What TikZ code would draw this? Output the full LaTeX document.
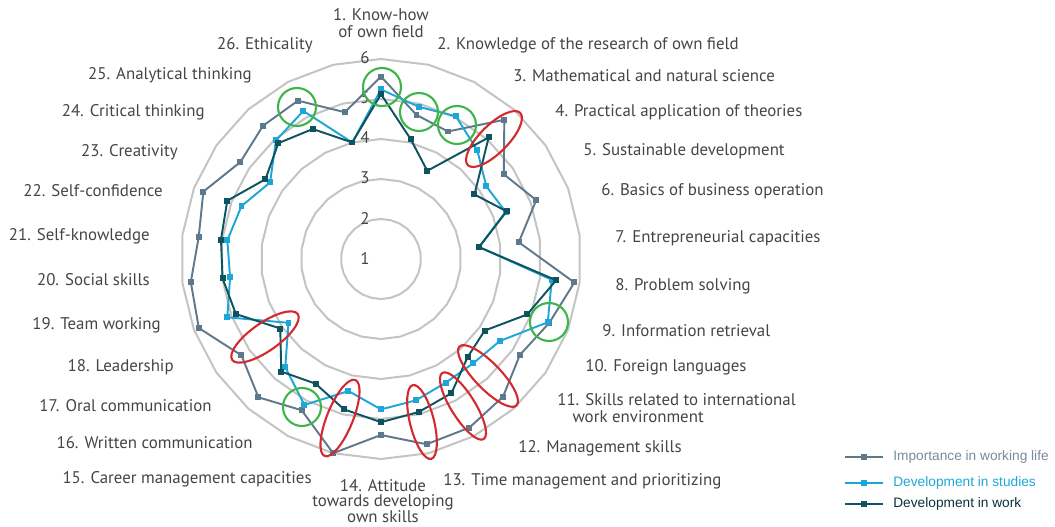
\documentclass[tikz,border=0pt]{standalone}
\usepackage{fontspec}
\setmainfont{PT Sans}
\newfontfamily\legendfont{Liberation Sans}
\usetikzlibrary{positioning}

\definecolor{impcol}{HTML}{5E788C}
\definecolor{studcol}{HTML}{1EA6D6}
\definecolor{workcol}{HTML}{0D5360}
\definecolor{gridcol}{HTML}{C4C4C4}
\definecolor{textcol}{HTML}{454545}
\definecolor{goodcol}{HTML}{3DB54A}
\definecolor{badcol}{HTML}{D42A2F}

\begin{document}
\begin{tikzpicture}[x=0.02cm,y=0.02cm,
  lbl/.style={inner sep=0pt,text=textcol,font=\fontsize{9.6}{9.3}\selectfont},
  ring/.style={draw=gridcol,line width=1.15pt},
  imp line/.style={draw=impcol,line width=1.1pt},
  stud line/.style={draw=studcol,line width=1.1pt},
  work line/.style={draw=workcol,line width=1.1pt},
  imp dot/.style={fill=impcol,inner sep=0pt,minimum size=3.4pt},
  stud dot/.style={fill=studcol,inner sep=0pt,minimum size=3.4pt},
  work dot/.style={fill=workcol,inner sep=0pt,minimum size=3.4pt},
  good/.style={draw=goodcol,line width=1.2pt},
  bad/.style={draw=badcol,line width=1.2pt},
  legtext/.style={inner sep=0pt,font=\legendfont\fontsize{7.8}{9}\selectfont}]
  \useasboundingbox (-381,-268) rectangle (674,259);

  \foreach \r in {40,80,...,200}
    \draw[ring] (90:\r) foreach \k in {1,...,25} {-- ({90-\k*360/26}:\r)} -- cycle;
  \foreach \v in {1,...,6}
    \node[lbl] (n\v) at (-16,{(\v-1)*40+1}) {\v};

  \node[lbl,align=center] (l1) at (0,236) {1. Know-how\\of own field};
  \node[lbl,anchor=west] (l2) at (56,214) {2. Knowledge of the research of own field};
  \node[lbl,anchor=west] (l3) at (132,183) {3. Mathematical and natural science};
  \node[lbl,anchor=west] (l4) at (174,147) {4. Practical application of theories};
  \node[lbl,anchor=west] (l5) at (202,108) {5. Sustainable development};
  \node[lbl,anchor=west] (l6) at (220,68) {6. Basics of business operation};
  \node[lbl,anchor=west] (l7) at (234,21) {7. Entrepreneurial capacities};
  \node[lbl,anchor=west] (l8) at (234,-27) {8. Problem solving};
  \node[lbl,anchor=west] (l9) at (221,-72) {9. Information retrieval};
  \node[lbl,anchor=west] (l10) at (204,-108) {10. Foreign languages};
  \node[lbl,anchor=west,align=left] (l11) at (176,-149) {11. Skills related to international\\\hspace*{0.9em}work environment};
  \node[lbl,anchor=west] (l12) at (137,-189) {12. Management skills};
  \node[lbl,anchor=west] (l13) at (62,-222) {13. Time management and prioritizing};
  \node[lbl,align=center,font=\fontsize{9.6}{9}\selectfont] (l14) at (2,-242) {14. Attitude\\towards developing\\own skills};
  \node[lbl,anchor=east] (l15) at (-69,-220) {15. Career management capacities};
  \node[lbl,anchor=east] (l16) at (-128,-184) {16. Written communication};
  \node[lbl,anchor=east] (l17) at (-169,-147) {17. Oral communication};
  \node[lbl,anchor=east] (l18) at (-207,-108) {18. Leadership};
  \node[lbl,anchor=east] (l19) at (-220,-66) {19. Team working};
  \node[lbl,anchor=east] (l20) at (-231,-21) {20. Social skills};
  \node[lbl,anchor=east] (l21) at (-231,23) {21. Self-knowledge};
  \node[lbl,anchor=east] (l22) at (-218,68) {22. Self-confidence};
  \node[lbl,anchor=east] (l23) at (-203,107) {23. Creativity};
  \node[lbl,anchor=east] (l24) at (-176,147) {24. Critical thinking};
  \node[lbl,anchor=east] (l25) at (-129,184) {25. Analytical thinking};
  \node[lbl,anchor=east] (l26) at (-68,214) {26. Ethicality};

  \foreach \s/\vals in {
    imp/{5.56,4.71,4.60,5.65,4.73,5.15,4.47,5.87,5.50,5.22,5.60,5.76,5.77,5.40,6.00,5.27,5.62,5.24,5.87,5.79,5.59,5.75,5.27,5.45,5.47,4.78},
    stud/{5.24,4.92,5.03,4.63,4.20,4.33,3.47,5.30,5.46,4.61,4.48,4.49,4.64,4.76,4.40,5.12,4.61,3.81,5.11,4.80,4.87,4.73,4.37,4.96,5.18,4.00},
    work/{5.12,4.09,3.49,5.06,3.84,4.36,3.47,5.41,4.91,4.15,4.27,4.79,4.94,5.08,4.87,4.52,4.76,4.06,4.88,4.99,5.03,5.11,4.51,4.87,4.67,4.00}}{
    \foreach \v [count=\k] in \vals
      \coordinate (\s\k) at ({90-(\k-1)*360/26}:{(\v-1)*40});
    \draw[\s\space line] (\s1) foreach \k in {2,...,26} {-- (\s\k)} -- cycle;
    \foreach \k in {1,...,26}
      \node[\s\space dot] (\s m\k) at (\s\k) {};
  }

  \foreach \x/\y in {1/172,38/147,76/134,-84/152,168/-63,-79/-148}
    \draw[good] (\x,\y) circle (19);
  \foreach \x/\y/\a/\ea/\eb in {113/120/45/37/14,-116/-78/35/40/14,-41/-159/68/41/13,
      41/-163/104/38/12,82/-147/122/39/12,107/-117/134/41/13}
    \draw[bad,shift={(\x,\y)},rotate=\a] (0,0) ellipse [x radius=\ea, y radius=\eb];

  \foreach \s/\t/\c/\y in {imp/Importance in working life/impcol!85/-198,
      stud/Development in studies/studcol/-224,work/Development in work/workcol!60!black/-245}{
    \coordinate (\s a) at (464,\y);
    \coordinate (\s b) at (502,\y);
    \draw[\s\space line] (\s a) -- node[\s\space dot] (\s legm) {} (\s b);
    \node[legtext,text=\c,right=0.2cm of \s b] (\s leg) {\t};
  }
\end{tikzpicture}
\end{document}
